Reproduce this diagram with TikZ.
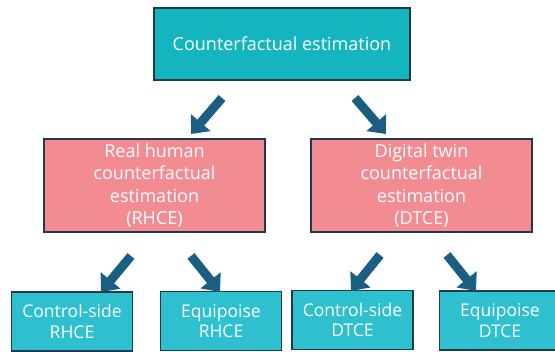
\documentclass[tikz,border=0pt]{standalone}
\usepackage{fontspec}
\setmainfont{Open Sans}
\usetikzlibrary{arrows.meta}
\definecolor{topteal}{HTML}{14B5BF}
\definecolor{boxteal}{HTML}{2EC0CE}
\definecolor{rosebox}{HTML}{F28C92}
\definecolor{edgeblue}{HTML}{1E3A4C}
\definecolor{arrblue}{HTML}{1A5E82}
\tikzset{
  box/.style={draw=edgeblue, line width=1.2pt, text=white, align=center, inner sep=0pt},
  leaf/.style={box, fill=boxteal, minimum width=121pt, minimum height=59pt, font=\fontsize{17.5}{20.5}\selectfont},
  blockarr/.style={arrblue, line width=9pt, -{Triangle[width=25pt,length=15pt]}}
}
\begin{document}
\begin{tikzpicture}[x=1pt, y=-1pt]
\useasboundingbox (0,0) rectangle (555,352);

\node[box, fill=topteal, minimum width=256pt, minimum height=72pt, font=\fontsize{18}{21}\selectfont] (top) at (282,44) {Counterfactual estimation};

\node[box, fill=rosebox, minimum width=221pt, minimum height=93pt, font=\fontsize{18}{22.3}\selectfont] (rhce) at (154.5,185.5) {Real human\\counterfactual\\estimation\\(RHCE)};
\node[box, fill=rosebox, minimum width=221pt, minimum height=93pt, font=\fontsize{18}{22.3}\selectfont] (dtce) at (421.5,185.5) {Digital twin\\counterfactual\\estimation\\(DTCE)};

\node[leaf] (csr) at (72,321.5) {Control-side\\RHCE};
\node[leaf] (eqr) at (221,321) {Equipoise\\RHCE};
\node[leaf] (csd) at (352.5,320) {Control-side\\DTCE};
\node[leaf] (eqd) at (500,320.5) {Equipoise\\DTCE};

% arrows
\coordinate (a1s) at (222,98);  \coordinate (a1e) at (191,134);
\coordinate (a2s) at (355,98);  \coordinate (a2e) at (386,134);
\coordinate (a3s) at (131,256); \coordinate (a3e) at (101,292);
\coordinate (a4s) at (191,256); \coordinate (a4e) at (220,292);
\coordinate (a5s) at (380,255); \coordinate (a5e) at (351,291);
\coordinate (a6s) at (447,255); \coordinate (a6e) at (476,291);

\foreach \i in {1,...,6}
\draw[blockarr] (a\i s) -- (a\i e);
\end{tikzpicture}
\end{document}
